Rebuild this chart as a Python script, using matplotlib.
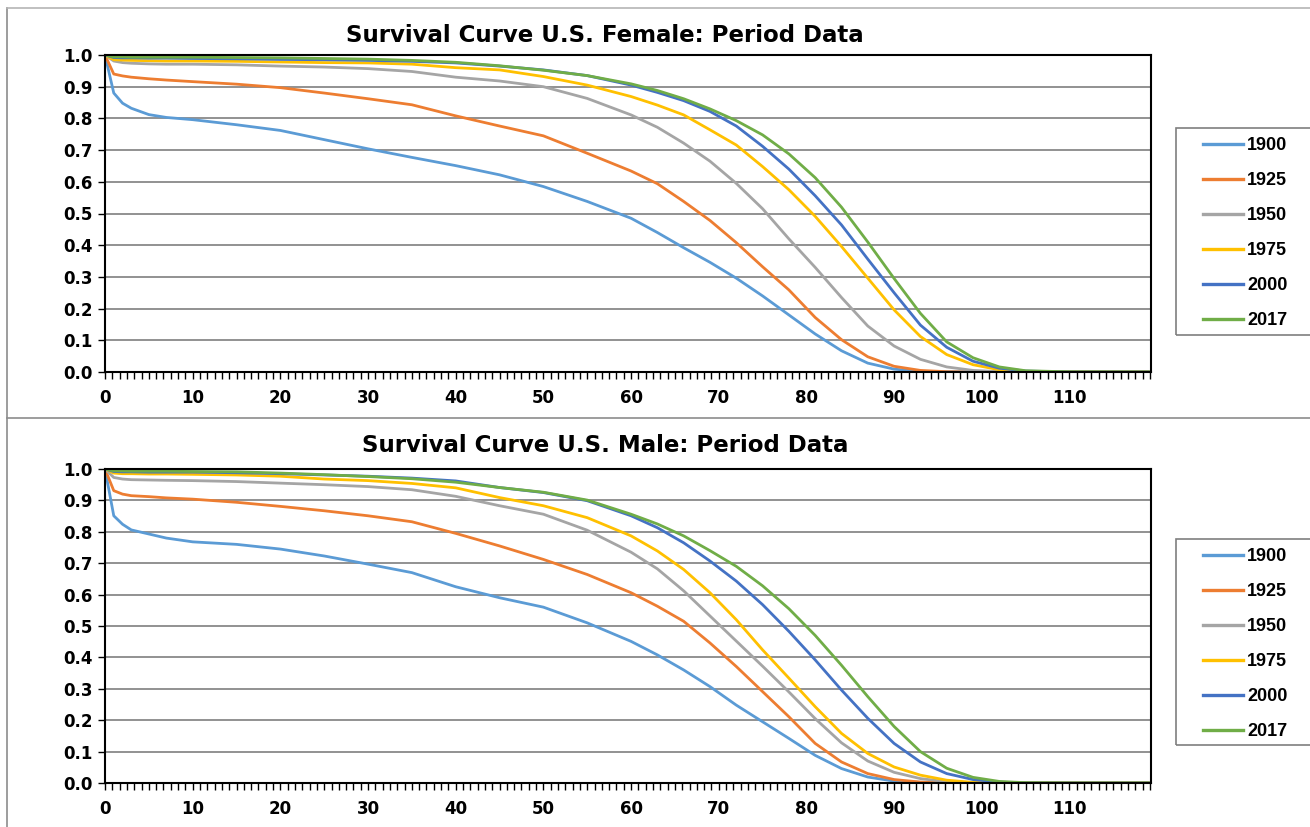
import matplotlib
matplotlib.use("Agg")
import matplotlib.pyplot as plt
from matplotlib.patches import Rectangle
from matplotlib.lines import Line2D
import numpy as np

plt.rcParams['font.family'] = ['DejaVu Sans']

# ---------------- data ----------------
ages = [0, 1, 2, 3, 5, 7, 10, 15, 20, 25, 30, 35, 40, 45, 50, 55, 60, 63, 66, 69, 72,
        75, 78, 81, 84, 87, 90, 93, 96, 99, 102, 105, 110, 119]

years = ["1900", "1925", "1950", "1975", "2000", "2017"]
colors = ["#5B9BD5", "#ED7D31", "#A5A5A5", "#FFC000", "#4472C4", "#70AD47"]

female_1900 = [1.0, 0.880, 0.848, 0.832, 0.812, 0.803, 0.796, 0.780, 0.762, 0.733, 0.704, 0.677, 0.651,
               0.622, 0.585, 0.538, 0.485, 0.440, 0.392, 0.346, 0.296, 0.240, 0.180, 0.120, 0.067,
               0.028, 0.009, 0.002, 0.0005, 0.0, 0.0, 0.0, 0.0, 0.0]
female_1925 = [1.0, 0.940, 0.934, 0.930, 0.925, 0.921, 0.916, 0.908, 0.897, 0.880, 0.862, 0.843, 0.808,
               0.776, 0.745, 0.690, 0.634, 0.594, 0.538, 0.478, 0.408, 0.332, 0.259, 0.172, 0.102,
               0.048, 0.018, 0.005, 0.001, 0.0, 0.0, 0.0, 0.0, 0.0]
female_1950 = [1.0, 0.981, 0.976, 0.974, 0.972, 0.971, 0.971, 0.969, 0.965, 0.962, 0.957, 0.948, 0.930,
               0.918, 0.900, 0.863, 0.811, 0.772, 0.722, 0.665, 0.595, 0.515, 0.420, 0.330, 0.235,
               0.145, 0.082, 0.040, 0.016, 0.005, 0.001, 0.0, 0.0, 0.0]
female_1975 = [1.0, 0.985, 0.984, 0.983, 0.982, 0.981, 0.981, 0.980, 0.978, 0.976, 0.975, 0.971, 0.960,
               0.953, 0.932, 0.905, 0.869, 0.842, 0.811, 0.764, 0.716, 0.648, 0.575, 0.491, 0.396,
               0.296, 0.196, 0.112, 0.055, 0.023, 0.007, 0.001, 0.0, 0.0]
female_2000 = [1.0, 0.992, 0.991, 0.991, 0.990, 0.990, 0.989, 0.988, 0.986, 0.985, 0.983, 0.980, 0.975,
               0.965, 0.953, 0.935, 0.905, 0.882, 0.856, 0.822, 0.776, 0.712, 0.640, 0.556, 0.464,
               0.356, 0.250, 0.148, 0.078, 0.034, 0.012, 0.003, 0.0, 0.0]
female_2017 = [1.0, 0.994, 0.994, 0.993, 0.993, 0.993, 0.993, 0.992, 0.991, 0.989, 0.987, 0.983, 0.977,
               0.966, 0.952, 0.935, 0.909, 0.888, 0.862, 0.830, 0.793, 0.748, 0.688, 0.613, 0.520,
               0.410, 0.295, 0.185, 0.095, 0.045, 0.016, 0.004, 0.0005, 0.0]

male_1900 = [1.0, 0.851, 0.824, 0.806, 0.793, 0.780, 0.768, 0.760, 0.745, 0.723, 0.697, 0.670, 0.625,
             0.590, 0.560, 0.510, 0.451, 0.408, 0.360, 0.307, 0.248, 0.195, 0.142, 0.088, 0.046,
             0.019, 0.006, 0.002, 0.0, 0.0, 0.0, 0.0, 0.0, 0.0]
male_1925 = [1.0, 0.931, 0.920, 0.915, 0.912, 0.908, 0.904, 0.894, 0.881, 0.867, 0.851, 0.832, 0.795,
             0.755, 0.712, 0.664, 0.606, 0.563, 0.515, 0.446, 0.371, 0.291, 0.211, 0.126, 0.067,
             0.030, 0.011, 0.003, 0.001, 0.0, 0.0, 0.0, 0.0, 0.0]
male_1950 = [1.0, 0.973, 0.968, 0.966, 0.965, 0.964, 0.963, 0.960, 0.955, 0.950, 0.944, 0.934, 0.913,
             0.883, 0.856, 0.805, 0.735, 0.682, 0.612, 0.532, 0.452, 0.372, 0.290, 0.205, 0.128,
             0.070, 0.034, 0.014, 0.004, 0.001, 0.0, 0.0, 0.0, 0.0]
male_1975 = [1.0, 0.987, 0.985, 0.985, 0.984, 0.984, 0.983, 0.981, 0.977, 0.968, 0.963, 0.954, 0.940,
             0.909, 0.883, 0.845, 0.787, 0.739, 0.680, 0.606, 0.520, 0.424, 0.334, 0.243, 0.158,
             0.094, 0.051, 0.025, 0.009, 0.002, 0.0, 0.0, 0.0, 0.0]
male_2000 = [1.0, 0.992, 0.991, 0.991, 0.990, 0.990, 0.990, 0.988, 0.985, 0.981, 0.977, 0.971, 0.962,
             0.941, 0.925, 0.899, 0.851, 0.813, 0.765, 0.707, 0.643, 0.568, 0.483, 0.392, 0.296,
             0.206, 0.126, 0.067, 0.030, 0.011, 0.003, 0.0, 0.0, 0.0]
male_2017 = [1.0, 0.994, 0.994, 0.993, 0.993, 0.993, 0.992, 0.991, 0.987, 0.982, 0.976, 0.969, 0.958,
             0.941, 0.926, 0.901, 0.856, 0.825, 0.787, 0.740, 0.690, 0.628, 0.555, 0.470, 0.375,
             0.275, 0.180, 0.100, 0.047, 0.018, 0.005, 0.001, 0.0, 0.0]

female_series = [female_1900, female_1925, female_1950, female_1975, female_2000, female_2017]
male_series = [male_1900, male_1925, male_1950, male_1975, male_2000, male_2017]

titles = ["Survival Curve U.S. Female: Period Data", "Survival Curve U.S. Male: Period Data"]
x_ticks = [0, 10, 20, 30, 40, 50, 60, 70, 80, 90, 100, 110]
y_ticks = [0.0, 0.1, 0.2, 0.3, 0.4, 0.5, 0.6, 0.7, 0.8, 0.9, 1.0]

# ---------------- figure ----------------
W, H = 1310, 827
fig = plt.figure(figsize=(W / 100, H / 100), dpi=100)


def fx(px):
    return px / W


def fy(py):
    return 1 - py / H


panels = [
    dict(top=55, bottom=372, title_y=35, leg_top=128, leg_bot=335, series=female_series, title=titles[0]),
    dict(top=469, bottom=783, title_y=446, leg_top=539, leg_bot=745, series=male_series, title=titles[1]),
]

left_px, right_px = 105, 1151

for p in panels:
    ax = fig.add_axes([fx(left_px), fy(p['bottom']), fx(right_px - left_px), (p['bottom'] - p['top']) / H])
    for vals, c, lab in zip(p['series'], colors, years):
        ax.plot(ages, vals, color=c, lw=2.0, label=lab, solid_joinstyle='round')
    ax.set_xlim(0, 119.3)
    ax.set_ylim(0, 1.0)
    ax.set_yticks(y_ticks)
    ax.set_yticklabels([f"{v:.1f}" for v in y_ticks])
    ax.set_xticks(x_ticks)
    ax.set_xticklabels([str(v) for v in x_ticks])
    ax.set_xticks(np.arange(0, 119.4, 10 / 12), minor=True)
    ax.tick_params(axis='both', which='both', direction='out', length=5, width=1.0, color='black',
                   labelsize=12, pad=4)
    ax.tick_params(axis='x', which='major', pad=7)
    for lbl in ax.get_xticklabels() + ax.get_yticklabels():
        lbl.set_fontweight('bold')
    ax.yaxis.grid(True, color='#7f7f7f', lw=1.2)
    ax.set_axisbelow(True)
    for s in ax.spines.values():
        s.set_color('black')
        s.set_linewidth(1.5)
    fig.text(fx(605), fy(p['title_y']), p['title'], ha='center', va='center',
             fontsize=16.5, fontweight='bold')
    # legend box
    fig.add_artist(Rectangle((fx(1176), fy(p['leg_bot'])), fx(160), (p['leg_bot'] - p['leg_top']) / H,
                             transform=fig.transFigure, fill=False, edgecolor='#7f7f7f', lw=1.2,
                             clip_on=False))
    handles = [Line2D([], [], color=c, lw=2.4) for c in colors]
    fig.legend(handles, years, loc='upper left',
               bbox_to_anchor=(fx(1203), fy(p['leg_top'] + 9)), frameon=False,
               prop=dict(family='Liberation Sans', weight='bold', size=13), handlelength=2.2,
               handletextpad=0.25, labelspacing=1.0, borderpad=0, borderaxespad=0)

# outer frame lines
line_c = '#8c8c8c'
fig.add_artist(Line2D([fx(7), fx(7)], [fy(8), fy(827)], color=line_c, lw=1.2, transform=fig.transFigure))
fig.add_artist(Line2D([fx(7), fx(1310)], [fy(8), fy(8)], color='#b5b5b5', lw=1.2, transform=fig.transFigure))
fig.add_artist(Line2D([fx(7), fx(1310)], [fy(418), fy(418)], color=line_c, lw=1.2, transform=fig.transFigure))

fig.savefig("out.png", dpi=100)
